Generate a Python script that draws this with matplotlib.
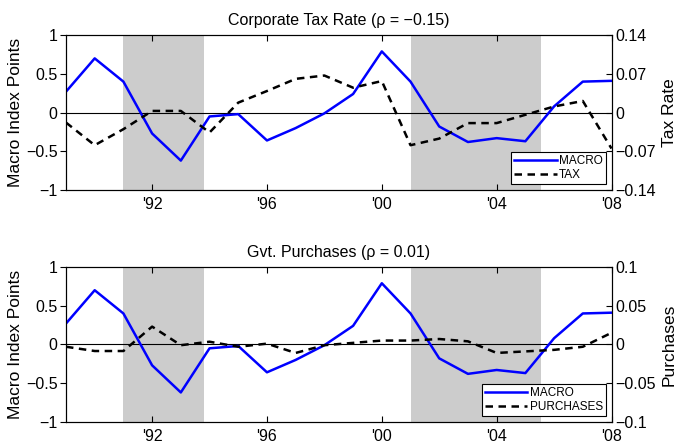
import matplotlib
matplotlib.use("Agg")
import matplotlib.pyplot as plt

plt.rcParams["font.family"] = ["Liberation Sans", "DejaVu Sans"]

years = list(range(1989, 2009))
macro = [0.27, 0.70, 0.40, -0.27, -0.62, -0.05, -0.02, -0.36, -0.20, -0.01,
         0.24, 0.79, 0.40, -0.18, -0.38, -0.33, -0.37, 0.08, 0.40, 0.41]
tax = [-0.018, -0.059, -0.030, 0.003, 0.003, -0.036, 0.018, 0.039, 0.061, 0.067,
       0.045, 0.057, -0.059, -0.047, -0.019, -0.019, -0.004, 0.011, 0.021, -0.065]
purchases = [-0.003, -0.0085, -0.0085, 0.023, -0.001, 0.0035, -0.003, 0.001, -0.011, -0.001,
             0.002, 0.005, 0.005, 0.007, 0.004, -0.011, -0.009, -0.007, -0.003, 0.015]

shaded = [(1991, 1993.8), (2001, 2005.55)]
xticks = [1992, 1996, 2000, 2004, 2008]
xlabels = ["'92", "'96", "'00", "'04", "'08"]


#one panel: macro index on the left axis, policy series on the right axis
def panel(ax, series, lim, rticks, rlabels, rname, legname, title):
    for a, b in shaded:
        ax.axvspan(a, b, color="#cccccc", lw=0, zorder=0)
    ax.axhline(0, color="black", lw=0.8, zorder=1)
    l1, = ax.plot(years, macro, color="blue", lw=1.8, zorder=3)
    ax.set_xlim(1989, 2008)
    ax.set_ylim(-1, 1)
    ax.set_yticks([-1, -0.5, 0, 0.5, 1])
    ax.set_yticklabels(["\u22121", "\u22120.5", "0", "0.5", "1"])
    ax.set_xticks(xticks)
    ax.set_xticklabels(xlabels)
    ax.tick_params(axis="x", direction="in", top=True, length=4, labelsize=11.5, pad=5)
    ax.tick_params(axis="y", direction="out", length=4, labelsize=11.5, pad=2)
    ax.set_ylabel("Macro Index Points", fontsize=12.5, labelpad=2)
    ax.set_title(title, fontsize=11.5, pad=7)

    ax2 = ax.twinx()
    l2, = ax2.plot(years, series, color="black", lw=1.8, ls=(0, (3, 2.2)), zorder=3)
    ax2.set_ylim(-lim, lim)
    ax2.set_yticks(rticks)
    ax2.set_yticklabels(rlabels)
    ax2.tick_params(axis="y", direction="in", length=4, labelsize=11.5, pad=3)
    ax2.set_ylabel(rname, fontsize=12.5, labelpad=4)
    ax2.set_xlim(1989, 2008)

    leg = ax2.legend([l1, l2], ["MACRO", legname], loc="lower right", fontsize=8.5,
                     fancybox=False, framealpha=1, edgecolor="black",
                     borderpad=0.25, handlelength=3.6, handletextpad=0.2,
                     labelspacing=0.15, borderaxespad=0.5)
    leg.get_frame().set_linewidth(0.8)


fig = plt.figure(figsize=(6.76, 4.45), dpi=100)
ax_top = fig.add_axes([0.0976, 0.573, 0.807, 0.348])
ax_bot = fig.add_axes([0.0976, 0.052, 0.807, 0.348])

panel(ax_top, tax, 0.14, [-0.14, -0.07, 0, 0.07, 0.14],
      ["\u22120.14", "\u22120.07", "0", "0.07", "0.14"],
      "Tax Rate", "TAX", "Corporate Tax Rate (\u03c1 = \u22120.15)")
panel(ax_bot, purchases, 0.1, [-0.1, -0.05, 0, 0.05, 0.1],
      ["\u22120.1", "\u22120.05", "0", "0.05", "0.1"],
      "Purchases", "PURCHASES", "Gvt. Purchases (\u03c1 = 0.01)")

fig.savefig("out.png", dpi=100)
